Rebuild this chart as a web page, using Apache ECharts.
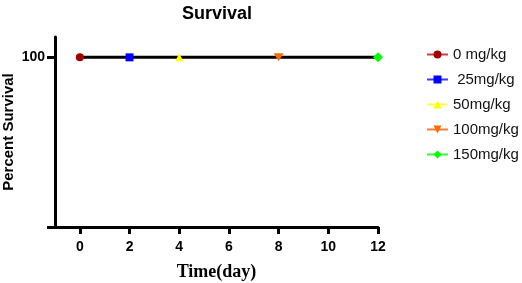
<!DOCTYPE html>
<html><head><meta charset="utf-8">
<script src="https://cdn.jsdelivr.net/npm/echarts@6/dist/echarts.min.js"></script>
<style>html,body{margin:0;padding:0;background:#fff}#c{width:522px;height:283px}</style>
</head><body><div id="c"></div>
<script>
const seriesNames = ['0 mg/kg', ' 25mg/kg', '50mg/kg', '100mg/kg', '150mg/kg'];
const markerDays = [0, 2, 4, 8, 12];
const markerValues = [100, 100, 100, 100, 100];
const curveDays = [0, 12];
const curveValues = [100, 100];
const xTicks = [0, 2, 4, 6, 8, 10, 12];
const yTicks = [100];
const colors = ['#a00000', '#0000ff', '#ffff00', '#ff6a00', '#00ff00'];
const lineColors = ['#c84040', '#3a3aff', '#ffff40', '#ff7a30', '#30ff30'];
const symbols = ['circle', 'rect', 'triangle', 'path://M0,0 L10,0 L5,9 Z', 'diamond'];

const chart = echarts.init(document.getElementById('c'), null, {renderer: 'canvas'});
const series = [{
  type: 'line', name: 'curve', data: curveDays.map((d, i) => [d, curveValues[i]]),
  showSymbol: false, lineStyle: {color: '#000', width: 3}, z: 1, silent: true
}];
seriesNames.forEach((n, i) => {
  series.push({
    type: 'line', name: n, data: [[markerDays[i], markerValues[i]]],
    symbol: symbols[i], symbolSize: i === 3 ? [10, 8] : (i === 4 ? 10 : 8),
    itemStyle: {color: colors[i]}, lineStyle: {color: lineColors[i], width: 1.5}, z: 3
  });
});
chart.setOption({
  animation: false,
  title: {text: 'Survival', left: 177, top: 0,
    textStyle: {fontFamily: 'Liberation Sans, Arial', fontWeight: 'bold', fontSize: 18, color: '#000'}},
  legend: {
    data: seriesNames, orient: 'vertical', left: 421, top: 42, itemGap: 10,
    itemWidth: 21, itemHeight: 10,
    textStyle: {fontFamily: 'Liberation Sans, Arial', fontSize: 15, color: '#111'}
  },
  grid: {left: 55, right: 144, top: 37, bottom: 56, outerBoundsMode: 'none', containLabel: false},
  xAxis: {
    type: 'value', min: -1, max: 12,
    name: 'Time(day)', nameLocation: 'middle', nameGap: 36, nameMoveOverlap: false,
    nameTextStyle: {fontFamily: 'Liberation Serif, Times New Roman', fontWeight: 'bold', fontSize: 18, color: '#000'},
    axisLine: {onZero: false, lineStyle: {color: '#000', width: 3}},
    axisTick: {show: true, interval: 0, inside: false, length: 7, lineStyle: {color: '#000', width: 3}, customValues: xTicks},
    axisLabel: {customValues: xTicks, fontFamily: 'Liberation Sans, Arial', fontWeight: 'bold', fontSize: 14, color: '#000', margin: 13},
    splitLine: {show: false}
  },
  yAxis: {
    type: 'value', min: 0, max: 112,
    name: 'Percent Survival', nameLocation: 'middle', nameGap: 39, nameRotate: 90, nameMoveOverlap: false,
    nameTextStyle: {fontFamily: 'Liberation Sans, Arial', fontWeight: 'bold', fontSize: 15, color: '#000'},
    axisLine: {show: true, onZero: false, lineStyle: {color: '#000', width: 3}},
    axisTick: {show: true, interval: 0, length: 8, lineStyle: {color: '#000', width: 3}, customValues: [0, 100]},
    axisLabel: {customValues: yTicks, fontFamily: 'Liberation Sans, Arial', fontWeight: 'bold', fontSize: 14, color: '#000', margin: 10},
    splitLine: {show: false}
  },
  series: series
});
</script></body></html>
